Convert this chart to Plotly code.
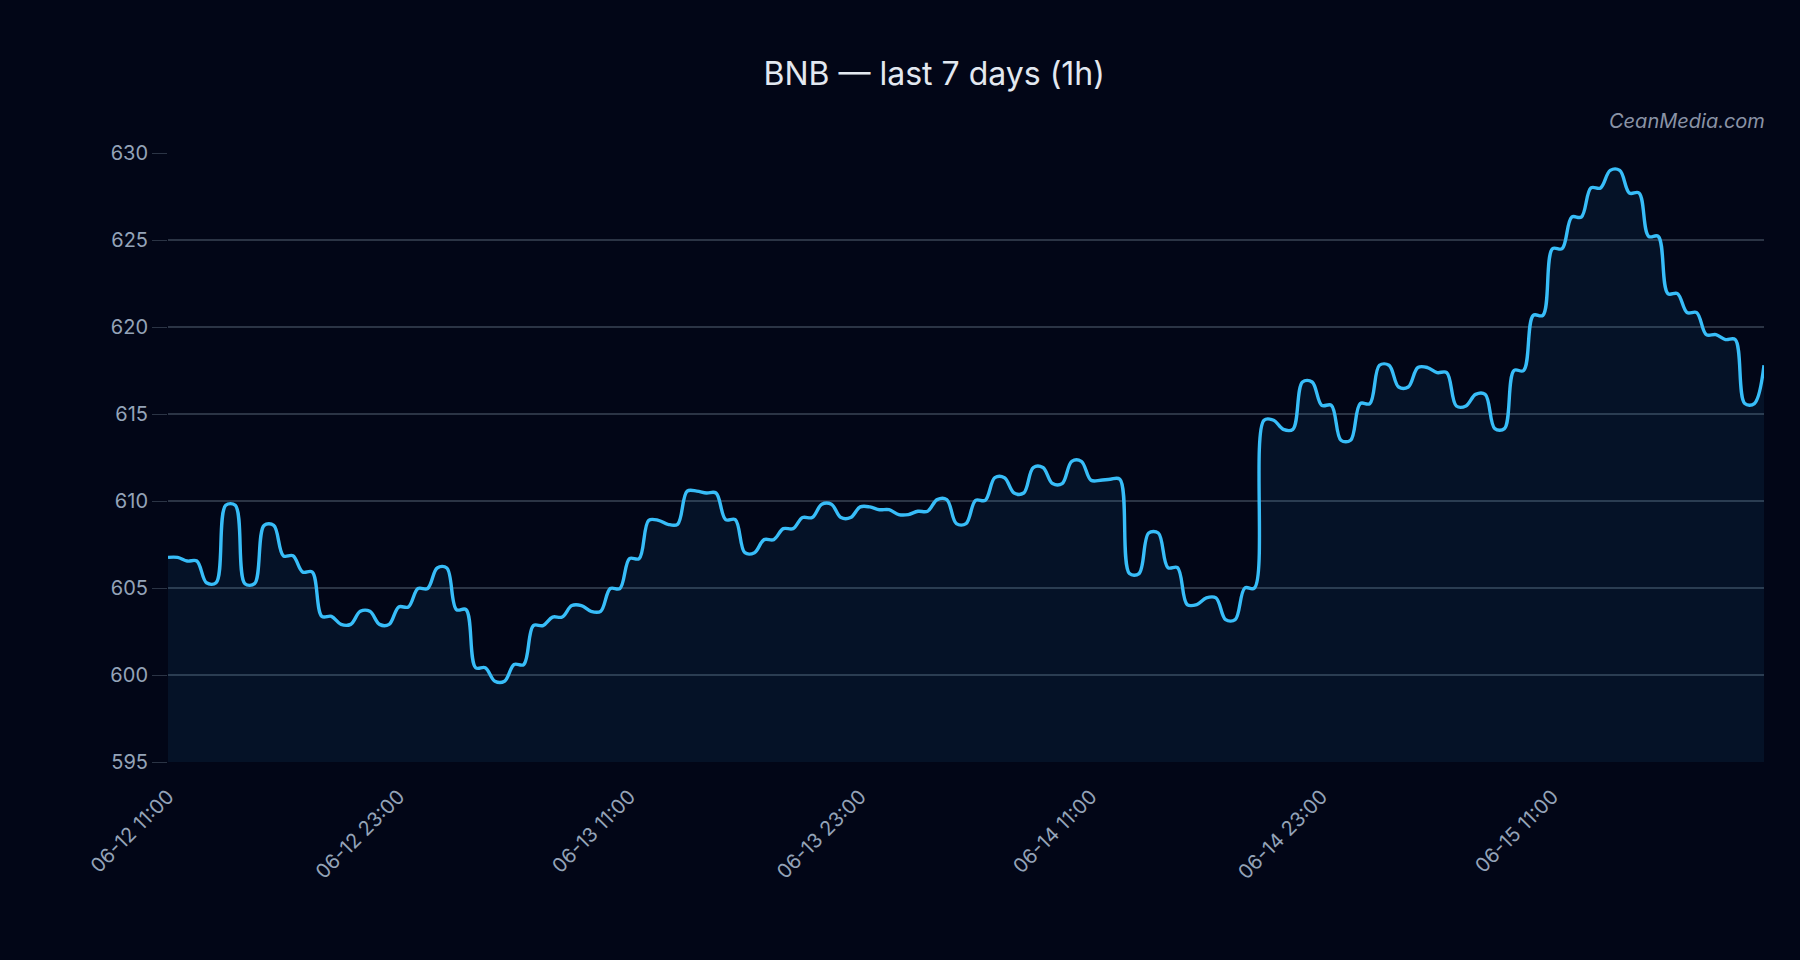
import pandas as pd
import plotly.graph_objects as go

# ---- data -------------------------------------------------------------
start_time = "2025-06-12 11:00"
price = [
    606.76, 606.55, 605.30, 609.75, 605.25, 608.60, 606.85, 605.92, 603.37, 602.91,
    603.66, 602.91, 603.91, 604.97, 606.15, 603.76, 600.42, 599.64, 600.60, 602.84,
    603.33, 603.99, 603.66, 604.97, 606.69, 608.89, 608.66, 610.57, 610.46, 608.93,
    607.03, 607.78, 608.41, 609.05, 609.81, 609.05, 609.66, 609.50, 609.22, 609.41,
    610.08, 608.70, 610.04, 611.34, 610.46, 611.92, 611.00, 612.28, 611.19, 611.25,
    605.83, 608.16, 606.17, 604.05, 604.43, 603.18, 605.00, 614.64, 614.12, 616.84,
    615.50, 613.49, 615.60, 617.80, 616.55, 617.67, 617.38, 615.46, 616.13, 614.16,
    617.50, 620.67, 624.50, 626.32, 627.99, 629.00, 627.70, 625.21, 621.92, 620.83,
    619.56, 619.28, 615.60, 617.80,
]
y_ticks = [595, 600, 605, 610, 615, 620, 625, 630]
title_text = "BNB — last 7 days (1h)"
watermark = "CeanMedia.com"

times = pd.date_range(start_time, periods=len(price), freq="h")

# each hourly close is held for half an hour before moving to the next one
hold = pd.Timedelta(minutes=30)
xs, ys = [], []
for i, (t, v) in enumerate(zip(times, price)):
    xs.append(t)
    ys.append(v)
    if i < len(price) - 1:
        xs.append(t + hold)
        ys.append(v)

BG = "#020617"
GRID = "#2b3445"
TICK = "#94a3b8"
LINE = "#38bdf8"
FONT = "Inter, Roboto, sans-serif"

fig = go.Figure()
fig.add_trace(
    go.Scatter(
        x=xs,
        y=ys,
        mode="lines",
        line=dict(color=LINE, width=3.4, shape="spline", smoothing=1.0),
        fill="tozeroy",
        fillcolor="rgba(56,189,248,0.07)",
        hoverinfo="skip",
        showlegend=False,
    )
)

fig.update_layout(
    width=1800,
    height=960,
    paper_bgcolor=BG,
    plot_bgcolor=BG,
    margin=dict(l=168, r=36, t=153, b=198),
    font=dict(family=FONT, color=TICK, size=20),
    title=dict(
        text=title_text,
        x=0.519,
        xref="container",
        xanchor="center",
        y=1 - 74 / 960,
        yref="container",
        yanchor="middle",
        font=dict(family=FONT, size=32, color="#e2e8f0"),
    ),
    annotations=[
        dict(
            text=watermark,
            xref="paper",
            yref="paper",
            x=1.002,
            y=1.053,
            xanchor="right",
            yanchor="middle",
            showarrow=False,
            font=dict(family=FONT, size=20, color="#8a93a6", style="italic"),
        )
    ],
)

fig.update_xaxes(
    type="date",
    range=[times[0], times[-1]],
    tick0=times[0],
    dtick=12 * 3600 * 1000,
    tickformat="%m-%d %H:%M",
    tickangle=-45,
    showgrid=False,
    zeroline=False,
    showline=False,
    ticks="outside",
    ticklen=14,
    tickcolor="rgba(0,0,0,0)",
    tickfont=dict(family=FONT, size=20, color=TICK),
)
fig.update_yaxes(
    range=[595, 630],
    tickvals=y_ticks,
    showgrid=True,
    gridcolor=GRID,
    gridwidth=1.5,
    zeroline=False,
    showline=False,
    ticks="outside",
    ticklen=15,
    tickcolor=GRID,
    tickfont=dict(family=FONT, size=20, color=TICK),
)

fig.write_html("out.html")
